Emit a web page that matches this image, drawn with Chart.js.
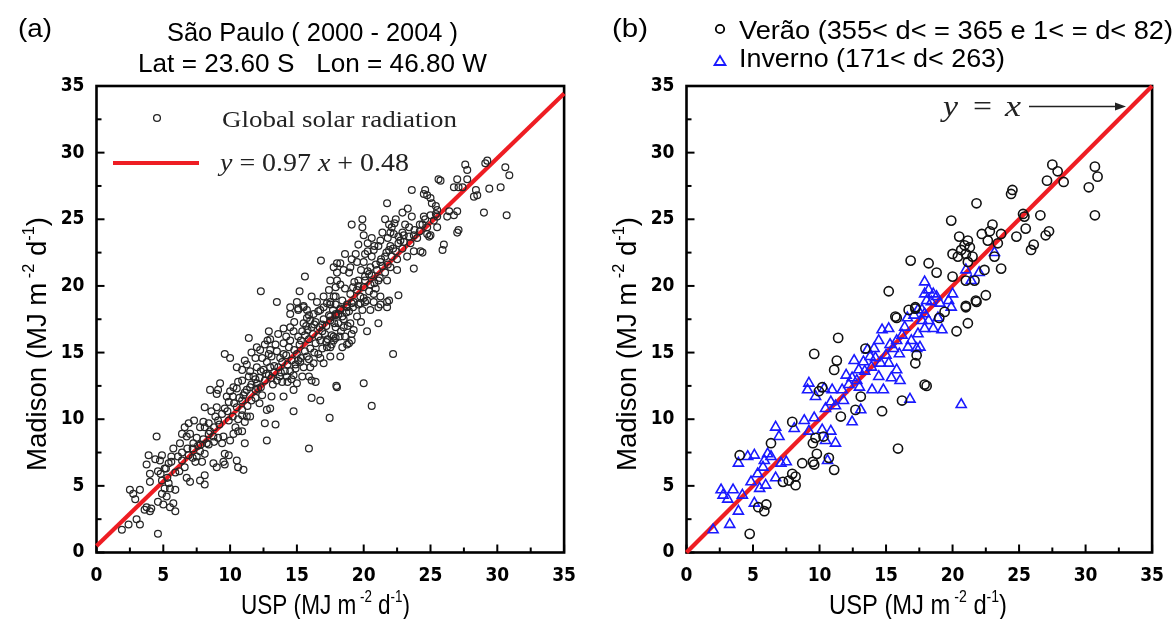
<!DOCTYPE html>
<html><head><meta charset="utf-8">
<script src="https://cdn.jsdelivr.net/npm/chart.js@4.4.1/dist/chart.umd.min.js"></script>
<style>
html,body{margin:0;padding:0;background:#fff;}
#wrap{position:relative;width:1176px;height:619px;overflow:hidden;}
.pane{position:absolute;top:0;width:588px;height:619px;}
</style></head><body>
<div id="wrap">
<div class="pane" style="left:0"><canvas id="ca" width="588" height="619"></canvas></div>
<div class="pane" style="left:588px"><canvas id="cb" width="588" height="619"></canvas></div>
</div>
<script>
// ---------------- DATA ----------------
const axisTickValues = [0, 5, 10, 15, 20, 25, 30, 35];
const tickMarkValues = [0, 2.5, 5, 7.5, 10, 12.5, 15, 17.5, 20, 22.5, 25, 27.5, 30, 32.5, 35];

// panel (a): global solar radiation, USP (x) vs Madison (y)
const globalRadiation = [
[1.9,1.7],[4.6,1.4],[2.4,2.1],[3.0,2.5],[3.25,2.1],
[2.5,4.7],[2.75,4.4],[3.25,4.7],[2.9,4.0],
[3.6,3.2],[3.75,3.4],[4.1,3.3],[4.0,3.1],
[4.6,3.8],[5.0,3.6],[5.5,3.4],[5.9,3.1],[5.75,3.7],
[3.9,7.3],[3.75,6.6],[4.5,8.7],[4.9,7.3],[4.75,6.9],[4.4,7.0],
[4.0,5.9],[4.0,5.3],[4.6,6.1],[5.1,6.3],[5.4,6.7],[5.6,6.8],
[4.9,5.4],[5.1,4.8],[5.5,4.8],[5.9,4.7],[5.25,4.2],[4.9,4.4],
[5.75,7.8],[6.25,8.2],[6.1,7.2],[6.4,8.9],[6.6,9.4],[6.75,8.7],[7.0,8.9],
[6.6,6.4],[6.75,5.6],[7.0,5.3],[7.4,6.8],[7.5,7.2],
[7.75,5.4],[8.1,5.8],[8.1,5.1],[7.9,6.8],[8.1,7.4],[7.75,7.6],
[7.25,8.2],[7.5,8.6],[7.75,9.4],[8.1,9.4],[8.0,9.8],[8.4,9.7],[8.5,9.1],[8.75,8.7],[8.25,8.2],
[8.1,10.9],[8.5,12.2],[9.0,11.9],[9.0,10.9],[8.9,10.2],[9.1,9.9],
[8.75,6.7],[9.0,6.4],[9.5,6.8],[9.6,6.6],[9.6,7.4],[9.9,7.3],[10.5,6.9],[10.6,6.4],[11.0,6.2],
[9.4,8.2],[9.5,8.7],[10.0,8.4],[10.25,8.9],[10.6,9.1],[10.4,9.4],[10.9,9.1],[11.1,8.2],
[9.6,14.9],[10.0,14.6],
[9.25,12.7],[9.1,12.2],[9.75,11.7],[10.25,12.4],[10.0,12.1],[10.5,12.3],
[9.9,11.3],[10.5,10.9],[10.9,11.4],[11.0,11.8],[11.25,12.2],
[10.9,10.3],[11.25,10.2],[11.5,10.2],[11.1,9.8],
[11.4,16.1],
[10.5,13.9],[10.9,13.7],[11.1,14.4],[11.25,14.1],[11.5,13.6],[11.75,13.2],[12.0,12.7],[12.1,12.3],
[12.0,13.9],[12.4,14.6],[12.5,13.7],[12.75,14.3],[13.0,13.9],[13.1,14.7],[13.5,15.1],[13.75,14.6],[14.0,14.9],
[12.25,15.2],[12.6,15.6],[13.0,15.2],[13.4,15.6],[14.0,15.7],[14.5,15.9],[14.75,16.6],[15.5,17.2],[15.75,17.6],[16.25,17.9],[16.6,18.1],[17.0,18.4],[17.5,18.6],
[12.4,11.8],[12.75,10.7],[13.1,11.7],[13.0,10.8],
[12.6,9.7],[13.4,9.6],[12.75,8.4],
[13.9,12.8],[14.25,13.2],[14.5,13.6],[14.75,13.3],[14.75,12.2],[15.0,12.7],[15.4,13.2],[14.0,11.7],[14.75,10.6],
[14.0,16.8],[14.5,17.9],[15.1,18.3],[15.5,18.5],[15.9,17.8],
[15.0,14.9],[15.25,14.3],[15.5,13.9],[15.75,14.7],[16.0,13.9],[16.25,14.2],[15.9,13.2],[16.1,12.9],[16.4,12.8],
[16.1,11.6],[16.75,11.4],[15.9,7.8],[17.45,10.1],
[16.75,15.9],[17.25,15.4],[16.75,14.6],[17.0,14.2],[17.5,14.7],[17.75,15.9],[18.0,12.4],[17.1,16.4],[17.9,16.9],[17.5,17.4],[16.9,17.1],
[13.5,18.8],[14.5,18.4],[15.0,18.8],
[12.3,19.6],[15.2,19.6],[15.6,20.7],[16.8,21.9],[18.0,21.7],
[18.0,20.4],[17.4,19.7],[17.0,19.2],[16.5,18.8],[16.1,19.2],[15.5,18.4],[15.1,18.2],[15.75,18.2],[16.75,18.2],[17.25,18.7],[17.9,19.2],
[29.25,29.4],[27.6,29.1],[27.75,28.7],[29.1,29.2],
[30.6,28.9],[30.9,28.3],[30.25,27.4],[30.7,25.3],
[29.4,27.3],[29.0,25.5],
[28.4,27.2],[28.5,26.8],[28.25,26.7],[27.0,28.0],[27.1,27.4],[27.4,27.4],[26.75,27.4],[27.75,28.0],
[25.6,28.0],[25.75,27.9],[24.6,27.2],[24.5,26.9],[24.75,26.8],[25.0,26.6],[25.1,26.2],[25.4,26.0],[25.5,25.7],[25.4,25.4],[25.5,25.2],[25.25,24.9],[23.6,27.2],[21.75,26.2],
[26.4,25.6],[26.75,25.3],[27.0,25.6],[26.25,25.2],
[27.0,24.0],[27.1,24.2],[26.0,23.1],[25.9,22.7],
[23.6,25.2],[24.5,25.2],[24.4,24.6],[24.75,24.4],[24.9,23.7],[25.5,24.4],[25.0,23.8],[24.75,23.9],
[19.1,24.6],[19.9,25.0],[19.9,24.4],[20.0,23.8],[20.6,23.6],[21.25,23.4],[21.1,23.0],[20.75,22.7],[20.1,22.4],[20.6,22.2],[21.25,21.8],[21.6,22.2],[21.9,22.7],
[21.6,25.0],[21.9,24.6],[22.1,24.4],[22.25,23.9],[22.6,23.7],[22.75,23.4],[23.0,23.8],[23.1,24.6],[22.9,24.0],[23.75,23.8],[23.5,23.2],[23.25,22.2],[23.75,22.6],[24.25,22.6],[23.75,21.3],[24.4,22.5],
[22.5,21.2],[21.75,20.4],[21.1,20.4],[20.1,20.7],[20.5,21.4],[20.0,21.8],[19.5,21.8],[19.0,21.4],[18.5,21.2],[18.25,21.7],[18.9,21.0],[18.0,21.0],[17.75,21.4],
[21.1,18.4],[21.9,18.9],[22.6,19.3],
[17.5,20.4],[17.9,19.9],[18.25,20.1],[18.6,19.8],[19.0,19.4],[19.5,19.7],[20.0,19.9],[20.5,20.1],[20.75,19.4],[20.25,18.9],[19.75,19.2],[19.25,18.8],[18.75,18.4],[18.25,18.2],[17.9,17.9],[17.75,19.2],[18.4,18.9],[19.9,18.2],[20.5,18.2],[21.25,19.2],[20.9,19.8],
[17.5,18.8],[17.9,18.6],[18.25,18.3],[18.75,18.6],[19.1,18.7],[19.75,18.7],[20.1,18.8],[20.75,18.8],[21.25,18.6],[21.75,18.4],[21.75,18.8],
[17.5,17.7],[17.9,17.8],[18.4,17.7],[18.1,17.2],[18.5,16.9],[19.0,17.2],[19.25,16.7],[19.1,16.4],[17.75,16.2],[17.5,15.4],
[20.25,16.6],[21.1,17.2],
[18.75,15.6],[18.9,15.7],[18.25,14.7],
[22.2,14.9],[17.95,12.5],[20.0,12.7],[20.6,11.0],
// dense core, estimated
[12.2,13.1],[12.6,12.9],[12.9,13.3],[13.3,13.5],[13.6,13.9],[13.2,12.6],[13.7,13.2],[14.1,13.6],[14.3,14.1],[14.6,14.4],
[14.2,14.8],[13.9,14.3],[12.9,14.9],[13.3,14.0],[12.3,13.6],[14.8,15.2],[14.4,15.4],[15.2,15.6],[15.1,14.4],[14.9,13.8],
[15.3,15.9],[15.6,16.3],[15.9,16.0],[16.2,16.4],[16.4,15.7],[16.0,15.3],[16.6,16.2],[16.9,16.6],[17.2,17.0],[16.4,17.3],
[16.1,16.9],[15.8,16.7],[17.6,16.3],[17.3,16.0],[18.2,16.2],[18.6,16.2],[18.4,15.4],[19.1,15.9],[18.8,17.0],[19.5,17.7],
[19.8,17.3],[18.7,18.0],[17.7,18.2],
[19.3,20.3],[19.6,20.4],[19.8,21.2],[20.3,21.1],[20.6,20.8],[21.0,21.2],[21.4,21.5],[21.8,21.6],[22.1,22.2],[22.4,22.6],
[22.0,23.0],[19.4,22.4],[19.1,22.0],[18.6,22.4],[19.6,23.1],[20.3,23.2],[21.4,24.0],[22.4,25.0],[22.9,25.5],[23.3,25.8],
[22.5,22.0],[22.9,22.8],[24.0,23.6],[24.2,24.1],[23.4,24.4],
[5.4,5.2],[6.2,6.1],[6.4,6.9],[6.9,7.3],[7.2,7.8],[7.6,8.0],[8.0,8.5],[8.4,8.9],[8.8,9.4],[9.2,9.6],
[9.4,10.4],[9.8,10.6],[10.2,10.2],[10.6,10.0],[10.9,10.7],[11.3,11.0],[11.6,11.4],[11.9,11.6],[12.2,11.2],[10.2,11.7],
[8.6,10.6],[7.3,9.9],[6.9,9.7],[5.6,7.2],[5.2,6.3],
[11.6,12.6],[11.9,13.0],[12.3,12.4],[12.7,13.4],[13.1,13.1],[13.5,12.9],[13.8,13.5],[14.3,12.8],[14.6,13.0],[14.9,14.1],
[15.3,14.6],[15.6,15.1],[15.9,14.5],[16.3,15.0],[16.6,14.9],[16.9,15.3],[17.2,15.8],[17.6,15.6],[17.9,16.1],[18.3,16.6],
[15.1,16.2],[15.4,16.6],[15.7,17.0],[16.0,17.4],[16.3,17.1],[16.7,16.9],[17.0,17.5],[17.4,17.8],[17.8,17.2],[18.1,17.9],
[18.5,17.5],[18.9,18.1],[19.2,18.4],[19.6,18.6],[20.0,19.1],[20.4,19.6],[20.8,20.2],[21.2,20.6],[21.6,21.0],[22.0,21.4],
[19.2,19.9],[19.6,20.0],[20.1,20.4],[20.4,20.9],[20.9,21.6],[21.3,22.0],[21.7,22.5],[22.2,22.8],[22.6,23.2],[23.0,23.3],
[23.4,23.7],[23.8,24.2],[24.2,24.6],[24.6,25.0],[25.0,25.3],[22.0,24.0],[22.3,24.7],[21.8,23.6],[20.8,23.0],[20.3,22.6],
[13.0,16.0],[13.6,16.4],[14.2,16.2],[14.5,16.9],[12.8,15.9],[11.9,14.6],[12.0,15.4],[11.6,15.0],[12.9,16.6],[14.8,17.3],
[10.3,11.2],[10.7,11.6],[11.1,12.0],[11.5,12.4],[11.9,12.2],[10.6,12.8],[10.9,12.9],[11.4,13.2],[9.6,10.8],[9.9,9.9],
[8.4,8.1],[8.8,8.3],[9.1,8.6],[7.8,8.1],[7.2,7.1],[6.8,7.8],[6.4,7.5],[5.9,6.0],[5.3,5.6],[4.8,5.9]
];
// regression line endpoints  y = 0.97 x + 0.48
const fitLine = [[0, 0.48], [35, 34.43]];

// panel (b): summer (Verão) circles, winter (Inverno) triangles
const verao = [
[4.75,1.4],[4.0,7.3],[6.0,3.6],[5.85,3.1],[5.4,3.4],[6.35,8.2],[7.25,5.3],[7.7,5.4],[8.2,5.7],[8.2,5.05],[7.95,5.9],[7.95,9.8],
[8.7,6.7],[9.5,6.8],[9.6,6.6],[9.8,7.4],[9.5,8.2],[9.7,8.6],[10.3,8.7],[11.1,6.2],[10.7,7.1],[9.6,14.9],[11.4,16.1],[10.2,12.4],
[9.95,12.1],[11.3,14.4],[11.1,13.7],[11.6,10.2],[13.1,11.7],[12.7,10.7],[14.7,10.6],[13.45,15.3],[15.8,17.6],[16.7,18.2],[17.2,18.4],
[16.2,11.4],[15.9,7.8],[17.2,14.2],[17.3,14.8],[17.9,12.6],
[27.5,29.1],[27.9,28.6],[27.1,27.9],[28.35,27.8],[30.7,28.95],[30.9,28.2],[30.24,27.4],[30.7,25.3],[24.5,27.2],[24.4,26.9],[21.8,26.2],
[19.9,24.9],[25.3,25.4],[25.4,25.2],[26.6,25.3],[25.5,24.3],[24.8,23.7],[27.25,24.1],[27.0,23.8],[26.1,23.1],[25.9,22.7],[23.0,24.6],
[22.8,24.1],[22.2,23.9],[22.65,23.4],[23.65,23.9],[23.4,23.2],[20.5,23.7],[21.15,23.4],[20.9,23.05],[20.65,22.7],[20.0,22.4],[21.3,22.9],
[20.4,22.2],[21.0,22.4],[21.5,22.2],[21.15,21.8],[23.15,22.2],[18.2,21.7],[18.8,21.0],[23.65,21.3],[22.4,21.2],[21.65,20.4],[21.0,20.4],
[20.0,20.7],[21.0,18.4],[21.75,18.9],[22.5,19.3],
[18.05,12.5],[20.3,16.6],[21.15,17.2],[21.0,18.5],[21.8,18.8],[19.4,18.05],[19.0,17.6],
[16.85,21.9],[15.2,19.6],[17.2,18.3],[15.7,17.7]
];
const inverno = [
[2.0,1.7],[3.25,2.1],[2.6,4.7],[3.5,4.7],[3.1,4.0],[2.75,4.3],[3.9,3.1],[4.2,4.3],[5.1,3.7],[3.9,6.7],[4.6,7.2],[5.1,7.3],
[4.85,5.3],[5.35,5.9],[5.75,6.4],[5.85,6.9],[6.1,7.4],[6.35,7.2],[6.7,9.4],[6.95,8.7],[5.5,4.8],[5.95,5.05],[6.7,5.6],[7.1,6.7],
[7.5,6.8],[8.1,9.3],[8.85,9.9],[9.6,10.1],[9.2,9.1],[10.2,9.2],[10.85,9.1],[10.45,8.4],[10.6,6.9],[11.2,8.2],[9.2,12.7],[9.1,12.2],
[9.7,11.7],[10.35,12.3],[10.45,10.8],[10.85,11.3],[10.95,12.2],[11.7,12.2],[12.45,9.8],[13.1,10.7],[12.45,13.1],[12.95,13.7],[12.6,14.4],
[13.3,14.3],[13.8,14.7],[13.95,12.2],[14.45,13.2],[14.8,12.2],[14.45,15.9],[14.7,16.7],[15.2,16.8],[15.55,15.3],[15.8,13.7],[16.05,12.9],
[15.4,13.1],[16.4,16.9],[16.9,15.9],[17.4,16.4],[16.65,15.4],[17.3,15.3],[17.7,17.4],[17.9,17.9],[16.8,11.5],
[17.9,20.3],[18.2,19.7],[18.55,19.4],[18.05,18.9],[18.4,18.8],[18.8,19.2],[19.05,18.7],[19.7,18.9],[19.9,18.4],[20.0,19.4],[17.7,18.2],
[21.0,21.2],[22.0,21.0],[21.4,20.4],[23.15,22.5],
[20.65,11.1],[17.9,16.8],[18.55,16.8],[19.2,16.7],[18.2,17.4],[17.55,15.4],[18.9,17.6],
[17.9,19.4],[17.4,18.2],
[12.2,12.6],[12.8,12.9],[13.4,13.6],[13.9,13.9],[14.2,14.6],[14.6,14.2],[15.0,14.8],[15.3,15.6],[15.8,15.9],[16.2,16.3],
[16.0,14.9],[15.2,14.2],[14.1,15.3],[13.6,15.2],[16.6,17.6],[17.1,17.8],[13.0,12.4],[11.8,11.4],[11.2,11.0],[12.0,13.3]
];
// identity line y = x
const identityLine = [[0, 0], [35, 35]];

// ---------------- TEXT ----------------
const panelLabels = ['(a)', '(b)'];
const titleLinesA = ['São Paulo ( 2000 - 2004 )', 'Lat = 23.60 S   Lon = 46.80 W'];
const legendTextsB = ['Verão (355< d< = 365 e 1< = d< 82)', 'Inverno (171< d< 263)'];
const legendTextA = 'Global solar radiation';
const fitEquation = ['y', ' = 0.97 ', 'x', ' + 0.48'];
const identityEquation = ['y', '=', 'x'];
const xTitle = ['USP (MJ m', ' -2', ' d', '-1', ')'];
const yTitle = ['Madison (MJ m', ' -2', ' d', '-1', ')'];

// ---------------- STYLE / HELPERS ----------------
const SANS = '"Liberation Sans", Arial, sans-serif';
const NARROW = '"Liberation Sans Narrow", "DejaVu Sans Condensed", "Liberation Sans", sans-serif';
const SERIF = '"Liberation Serif", "DejaVu Serif", serif';
const RED = '#ee1d23';
const BLUE = '#1a1aff';
const W = 588, H = 619;

const toXY = arr => arr.map(p => ({x: p[0], y: p[1]}));

// draw a run of text pieces; x = left (or center), y = baseline; optional target width
function drawParts(ctx, parts, x, y, align, targetW) {
  let w = 0;
  for (const p of parts) { ctx.font = p.f; w += ctx.measureText(p.t).width; }
  const sx = targetW ? targetW / w : 1;
  ctx.save();
  ctx.translate(x, y);
  ctx.scale(sx, 1);
  let cx = align === 'center' ? -w / 2 : 0;
  ctx.textAlign = 'left'; ctx.textBaseline = 'alphabetic';
  for (const p of parts) { ctx.font = p.f; ctx.fillText(p.t, cx, p.dy || 0); cx += ctx.measureText(p.t).width; }
  ctx.restore();
}
function unitParts(arr) {
  return [
    {t: arr[0], f: '27px ' + SANS},
    {t: arr[1], f: '16px ' + SANS, dy: -12},
    {t: arr[2], f: '27px ' + SANS},
    {t: arr[3], f: '16px ' + SANS, dy: -12},
    {t: arr[4], f: '27px ' + SANS}
  ];
}

const frameTicks = {
  id: 'frameTicks',
  beforeDatasetsDraw(chart) {
    const {ctx, chartArea: a, scales: {x, y}} = chart;
    ctx.save();
    ctx.strokeStyle = '#000';
    ctx.lineWidth = 2;
    for (const v of tickMarkValues) {
      const major = v % 5 === 0;
      const len = major ? 8 : 5;
      const px = x.getPixelForValue(v);
      ctx.beginPath(); ctx.moveTo(px, a.bottom); ctx.lineTo(px, a.bottom - len); ctx.stroke();
      const py = y.getPixelForValue(v);
      ctx.beginPath(); ctx.moveTo(a.left, py); ctx.lineTo(a.left + len, py); ctx.stroke();
    }
    ctx.lineWidth = 2.6;
    ctx.strokeRect(a.left, a.top, a.right - a.left, a.bottom - a.top);
    ctx.restore();
  }
};

const axisTitles = {
  id: 'axisTitles',
  afterDraw(chart, args, opts) {
    const {ctx} = chart;
    ctx.save();
    ctx.fillStyle = '#000';
    drawParts(ctx, unitParts(xTitle), opts.xc, 614, 'center', opts.xw);
    ctx.translate(opts.yx, opts.yc);
    ctx.rotate(-Math.PI / 2);
    drawParts(ctx, unitParts(yTitle), 0, 0, 'center', opts.yw);
    ctx.restore();
  }
};

const decorA = {
  id: 'decorA',
  afterDraw(chart) {
    const {ctx} = chart;
    ctx.save();
    ctx.fillStyle = '#000';
    drawParts(ctx, [{t: panelLabels[0], f: '25px ' + SANS}], 18, 37, 'left', 34);
    drawParts(ctx, [{t: titleLinesA[0], f: '25px ' + SANS}], 312.5, 41, 'center', 291);
    drawParts(ctx, [{t: titleLinesA[1], f: '25px ' + SANS}], 312.5, 72, 'center', 349);
    // legend
    ctx.strokeStyle = '#222'; ctx.lineWidth = 1.3;
    ctx.beginPath(); ctx.arc(157, 118, 3.4, 0, Math.PI * 2); ctx.stroke();
    ctx.strokeStyle = RED; ctx.lineWidth = 4;
    ctx.beginPath(); ctx.moveTo(113, 163); ctx.lineTo(199, 163); ctx.stroke();
    ctx.fillStyle = '#222';
    drawParts(ctx, [{t: legendTextA, f: '24px ' + SERIF}], 222, 127, 'left', 235);
    drawParts(ctx, [
      {t: fitEquation[0], f: 'italic 25px ' + SERIF},
      {t: fitEquation[1], f: '25px ' + SERIF},
      {t: fitEquation[2], f: 'italic 25px ' + SERIF},
      {t: fitEquation[3], f: '25px ' + SERIF}
    ], 220, 171, 'left', 189);
    ctx.restore();
  }
};

const decorB = {
  id: 'decorB',
  afterDraw(chart) {
    const {ctx} = chart;
    ctx.save();
    ctx.fillStyle = '#000';
    drawParts(ctx, [{t: panelLabels[1], f: '25px ' + SANS}], 24, 37, 'left', 36);
    drawParts(ctx, [{t: legendTextsB[0], f: '25px ' + SANS}], 151, 39, 'left', 434);
    drawParts(ctx, [{t: legendTextsB[1], f: '25px ' + SANS}], 151, 67, 'left', 266);
    ctx.strokeStyle = '#000'; ctx.lineWidth = 1.8;
    ctx.beginPath(); ctx.arc(132, 29, 4.2, 0, Math.PI * 2); ctx.stroke();
    ctx.strokeStyle = BLUE; ctx.lineWidth = 1.8;
    ctx.beginPath(); ctx.moveTo(132, 56); ctx.lineTo(137.5, 65); ctx.lineTo(126.5, 65); ctx.closePath(); ctx.stroke();
    // y = x label with arrow
    ctx.fillStyle = '#222';
    drawParts(ctx, [{t: identityEquation[0], f: 'italic 30px ' + SERIF}], 355, 116, 'left', 15);
    drawParts(ctx, [{t: identityEquation[1], f: '30px ' + SERIF}], 385, 116, 'left', 19);
    drawParts(ctx, [{t: identityEquation[2], f: 'italic 30px ' + SERIF}], 417, 116, 'left', 16);
    ctx.strokeStyle = '#222'; ctx.lineWidth = 1.3;
    ctx.beginPath(); ctx.moveTo(441, 106.5); ctx.lineTo(532, 106.5); ctx.stroke();
    ctx.beginPath(); ctx.moveTo(538, 106.5); ctx.lineTo(527, 102.5); ctx.lineTo(527, 110.5); ctx.closePath(); ctx.fill();
    ctx.restore();
  }
};

function makeScales(yWidth) {
  const tickFont = {family: NARROW, size: 19, weight: 'bold'};
  return {
    x: {
      type: 'linear', min: 0, max: 35,
      afterBuildTicks: s => { s.ticks = axisTickValues.map(v => ({value: v})); },
      afterFit: s => { s.height = 66.5; },
      grid: {display: false, drawTicks: false},
      border: {display: false},
      ticks: {color: '#000', font: tickFont, padding: 12, maxRotation: 0, autoSkip: false, callback: v => String(v)}
    },
    y: {
      type: 'linear', min: 0, max: 35,
      afterBuildTicks: s => { s.ticks = axisTickValues.map(v => ({value: v})); },
      afterFit: s => { s.width = yWidth; },
      grid: {display: false, drawTicks: false},
      border: {display: false},
      ticks: {color: '#000', font: tickFont, padding: 12, autoSkip: false, callback: v => String(v)}
    }
  };
}

const common = {
  responsive: false,
  animation: false,
  events: [],
  plugins: {legend: {display: false}, tooltip: {enabled: false}}
};

new Chart(document.getElementById('ca'), {
  type: 'scatter',
  data: {
    datasets: [
      {data: toXY(globalRadiation), pointStyle: 'circle', pointRadius: 3.4, borderWidth: 1.25,
       borderColor: '#262626', backgroundColor: 'rgba(0,0,0,0)'},
      {data: toXY(fitLine), showLine: true, pointRadius: 0, borderColor: RED, borderWidth: 4.2, clip: 4}
    ]
  },
  options: Object.assign({}, common, {
    layout: {padding: {top: 86, right: W - 564.5, left: 0, bottom: 0}},
    scales: makeScales(96.5),
    plugins: Object.assign({}, common.plugins, {axisTitles: {xc: 325.5, xw: 169, yx: 46, yc: 344, yw: 254}})
  }),
  plugins: [frameTicks, axisTitles, decorA]
});

new Chart(document.getElementById('cb'), {
  type: 'scatter',
  data: {
    datasets: [
      {data: toXY(verao), pointStyle: 'circle', pointRadius: 4.6, borderWidth: 1.6,
       borderColor: '#111', backgroundColor: 'rgba(0,0,0,0)'},
      {data: toXY(inverno), pointStyle: 'triangle', pointRadius: 5.8, borderWidth: 1.6,
       borderColor: BLUE, backgroundColor: 'rgba(0,0,0,0)'},
      {data: toXY(identityLine), showLine: true, pointRadius: 0, borderColor: RED, borderWidth: 4.2, clip: 4}
    ]
  },
  options: Object.assign({}, common, {
    layout: {padding: {top: 86, right: W - (1156 - 588), left: 0, bottom: 0}},
    scales: makeScales(686.5 - 588),
    plugins: Object.assign({}, common.plugins, {axisTitles: {xc: 330, xw: 178, yx: 48, yc: 344, yw: 254}})
  }),
  plugins: [frameTicks, axisTitles, decorB]
});
</script>
</body></html>
